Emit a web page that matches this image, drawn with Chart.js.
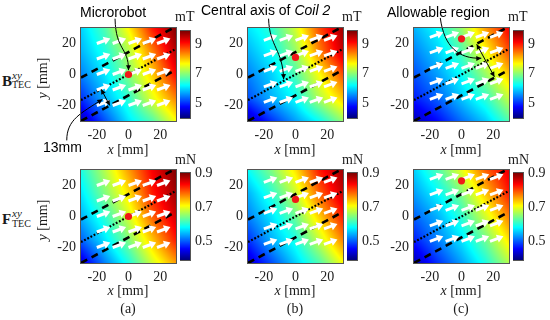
<!DOCTYPE html>
<html>
<head>
<meta charset="utf-8">
<script src="https://cdn.jsdelivr.net/npm/chart.js@4"></script>
<style>
  body { margin: 0; background: #fff; }
  #wrap { position: relative; width: 550px; height: 320px; overflow: hidden; font-family: "Liberation Serif", serif; color: #1a1a1a; }
  canvas { position: absolute; }
  .t { position: absolute; white-space: nowrap; line-height: 1; font-size: 14px; }
  .sans { font-family: "Liberation Sans", Arial, sans-serif; color: #000; }
  .c { text-align: center; width: 80px; }
</style>
</head>
<body>
<div id="wrap"></div>
<script>
// grid the field maps were read on (mm)
const gridX = [-30, -15, 0, 15, 30];
const gridY = [30, 15, 0, -15, -30];

// |B| in mT, rows follow gridY, columns follow gridX
const fluxA = [
  [5.97, 6.67, 7.71, 8.98, 9.85],
  [5.80, 6.38, 7.24, 8.40, 9.56],
  [5.51, 6.09, 6.96, 7.94, 9.10],
  [5.04, 5.80, 6.49, 7.53, 8.40],
  [4.35, 5.22, 6.09, 6.67, 7.65]
];
const fluxB = [
  [6.09, 6.49, 7.42, 8.69, 9.68],
  [5.80, 6.26, 7.07, 8.40, 9.44],
  [5.51, 5.97, 6.67, 7.65, 8.69],
  [5.22, 5.80, 6.26, 7.24, 8.00],
  [4.35, 5.04, 5.68, 6.26, 7.07]
];
const fluxC = [
  [5.80, 6.26, 7.07, 8.23, 9.16],
  [5.51, 5.97, 6.67, 7.65, 8.69],
  [5.22, 5.68, 6.26, 7.07, 8.00],
  [4.93, 5.33, 5.91, 6.49, 7.36],
  [4.35, 4.81, 5.39, 5.91, 6.67]
];
// |F| in mN
const forceA = [
  [0.594, 0.671, 0.757, 0.839, 0.900],
  [0.569, 0.645, 0.722, 0.824, 0.885],
  [0.543, 0.604, 0.686, 0.788, 0.859],
  [0.502, 0.569, 0.645, 0.737, 0.824],
  [0.431, 0.518, 0.594, 0.686, 0.757]
];
const forceB = [
  [0.584, 0.645, 0.722, 0.824, 0.885],
  [0.543, 0.604, 0.681, 0.788, 0.864],
  [0.518, 0.569, 0.635, 0.732, 0.824],
  [0.477, 0.543, 0.594, 0.681, 0.773],
  [0.426, 0.492, 0.558, 0.620, 0.706]
];
const forceC = [
  [0.558, 0.620, 0.696, 0.788, 0.849],
  [0.533, 0.579, 0.645, 0.737, 0.824],
  [0.502, 0.543, 0.604, 0.686, 0.773],
  [0.467, 0.518, 0.569, 0.635, 0.722],
  [0.416, 0.477, 0.533, 0.594, 0.671]
];

const fluxRange = [4.05, 9.85];
const forceRange = [0.39, 0.9];
const fluxTicks = [5, 7, 9];
const forceTicks = [0.5, 0.7, 0.9];
const axisTicks = [-20, 0, 20];

// microrobot position per column (a), (b), (c)
const robotX = [0, 0, 0];
const robotY = [0, 11, 23];

// central axis of coil 2 and the +-13 mm band edges
const lineX = [-30, 30];
const axisY = [-16.5, 16.5];
const upperY = [-2, 31];
const lowerY = [-30, 3];

// quiver tails and vector (mm)
const arrowTailX = [-20, -10, 0, 9, 18];
const arrowTailY = [
  [20, 10, 0, -10, -20],
  [22, 12, 2, -8, -18],
  [24, 14, 4, -6, -16]
];
const arrowU = 8.5;
const arrowV = 3.2;

function jet(t) {
  t = Math.min(1, Math.max(0, t));
  const f = v => Math.round(255 * Math.min(1, Math.max(0, v)));
  return [f(1.5 - Math.abs(4 * t - 3)), f(1.5 - Math.abs(4 * t - 2)), f(1.5 - Math.abs(4 * t - 1))];
}

function sample(field, vx, vy) {
  let i = 0, j = 0;
  while (i < gridX.length - 2 && vx > gridX[i + 1]) i++;
  while (j < gridY.length - 2 && vy < gridY[j + 1]) j++;
  const fx = Math.min(1, Math.max(0, (vx - gridX[i]) / (gridX[i + 1] - gridX[i])));
  const fy = Math.min(1, Math.max(0, (vy - gridY[j]) / (gridY[j + 1] - gridY[j])));
  const top = field[j][i] * (1 - fx) + field[j][i + 1] * fx;
  const bot = field[j + 1][i] * (1 - fx) + field[j + 1][i + 1] * fx;
  return top * (1 - fy) + bot * fy;
}

function drawHead(ctx, x0, y0, x1, y1, len, half) {
  const a = Math.atan2(y1 - y0, x1 - x0);
  const c = Math.cos(a), s = Math.sin(a);
  ctx.beginPath();
  ctx.moveTo(x1, y1);
  ctx.lineTo(x1 - len * c + half * s, y1 - len * s - half * c);
  ctx.lineTo(x1 - len * c - half * s, y1 - len * s + half * c);
  ctx.closePath();
  ctx.fill();
}

const heatmap = {
  id: 'heatmap',
  beforeDatasetsDraw(chart, args, opts) {
    const { ctx, chartArea: a, scales: { x, y } } = chart;
    const l = Math.round(a.left), t = Math.round(a.top);
    const w = Math.round(a.right) - l, h = Math.round(a.bottom) - t;
    const img = ctx.createImageData(w, h);
    for (let j = 0; j < h; j++) {
      const vy = y.getValueForPixel(t + j + 0.5);
      for (let i = 0; i < w; i++) {
        const vx = x.getValueForPixel(l + i + 0.5);
        const c = jet((sample(opts.field, vx, vy) - opts.min) / (opts.max - opts.min));
        const k = (j * w + i) * 4;
        img.data[k] = c[0]; img.data[k + 1] = c[1]; img.data[k + 2] = c[2]; img.data[k + 3] = 255;
      }
    }
    ctx.putImageData(img, l, t);
  }
};

const quiver = {
  id: 'quiver',
  beforeDatasetDraw(chart, args, opts) {
    if (args.index !== 0) return;
    const { ctx, scales: { x, y } } = chart;
    ctx.save();
    ctx.strokeStyle = '#fff';
    ctx.fillStyle = '#fff';
    ctx.lineWidth = 3;
    opts.ys.forEach(ty => opts.xs.forEach(tx => {
      const x0 = x.getPixelForValue(tx), y0 = y.getPixelForValue(ty);
      const x1 = x.getPixelForValue(tx + opts.u), y1 = y.getPixelForValue(ty + opts.v);
      const a = Math.atan2(y1 - y0, x1 - x0);
      ctx.beginPath();
      ctx.moveTo(x0, y0);
      ctx.lineTo(x1 - 5 * Math.cos(a), y1 - 5 * Math.sin(a));
      ctx.stroke();
      drawHead(ctx, x0, y0, x1, y1, 6.5, 4.2);
    }));
    ctx.restore();
  }
};

const callouts = {
  id: 'callouts',
  afterDraw(chart, args, opts) {
    const { ctx, scales: { x, y } } = chart;
    const px = p => [x.getPixelForValue(p[0]), y.getPixelForValue(p[1])];
    ctx.save();
    ctx.strokeStyle = '#000';
    ctx.fillStyle = '#000';
    ctx.lineWidth = 1;
    (opts.curves || []).forEach(c => {
      const [p0, p1, p2, p3] = c.map(px);
      ctx.beginPath();
      ctx.moveTo(p0[0], p0[1]);
      ctx.bezierCurveTo(p1[0], p1[1], p2[0], p2[1], p3[0], p3[1]);
      ctx.stroke();
      drawHead(ctx, p2[0], p2[1], p3[0], p3[1], 5, 2.5);
    });
    (opts.spans || []).forEach(s => {
      const [a, b] = s.map(px);
      ctx.beginPath();
      ctx.moveTo(a[0], a[1]);
      ctx.lineTo(b[0], b[1]);
      ctx.stroke();
      drawHead(ctx, a[0], a[1], b[0], b[1], 5, 2.5);
      drawHead(ctx, b[0], b[1], a[0], a[1], 5, 2.5);
    });
    ctx.restore();
  }
};

const frame = {
  id: 'frame',
  afterDraw(chart) {
    const { ctx, chartArea: a } = chart;
    ctx.save();
    ctx.strokeStyle = '#555';
    ctx.lineWidth = 1;
    ctx.strokeRect(Math.round(a.left) - 0.5, Math.round(a.top) - 0.5,
      Math.round(a.right) - Math.round(a.left) + 1, Math.round(a.bottom) - Math.round(a.top) + 1);
    ctx.restore();
  }
};

const colorbar = {
  id: 'colorbar',
  beforeDraw(chart, args, opts) {
    const { ctx, chartArea: a, scales: { y } } = chart;
    const t = Math.round(a.top), b = Math.round(a.bottom);
    for (let j = t; j < b; j++) {
      const c = jet((y.getValueForPixel(j + 0.5) - opts.min) / (opts.max - opts.min));
      ctx.fillStyle = `rgb(${c[0]},${c[1]},${c[2]})`;
      ctx.fillRect(Math.round(a.left), j, Math.round(a.right) - Math.round(a.left), 1);
    }
  }
};

const tickFont = { family: 'Liberation Serif', size: 14 };
const wrap = document.getElementById('wrap');

function addCanvas(left, top, w, h) {
  const c = document.createElement('canvas');
  c.width = w; c.height = h;
  c.style.left = left + 'px'; c.style.top = top + 'px';
  wrap.appendChild(c);
  return c;
}

function addText(html, left, top, cls, extra) {
  const d = document.createElement('div');
  d.className = 't ' + (cls || '');
  d.innerHTML = html;
  d.style.left = left + 'px';
  d.style.top = top + 'px';
  if (extra) Object.assign(d.style, extra);
  wrap.appendChild(d);
  return d;
}

const plotLeft = [81, 248, 414];
const barLeft = [180, 347, 513];
const rowTop = [28, 170];
const fields = [[fluxA, fluxB, fluxC], [forceA, forceB, forceC]];
const ranges = [fluxRange, forceRange];
const barTicks = [fluxTicks, forceTicks];

const calloutSets = [
  [
    { curves: [[[-8.5, 36], [-8, 15], [0, 18], [0, 2.8]], [[-39, -42.5], [-39, -29], [-30, -25], [-16.5, -16]]],
      spans: [[[-17.3, -9.5], [-11.8, -20]]] },
    { curves: [[[-17, 36], [-16.5, 18], [-8, 16], [-7.5, -3]]] },
    { curves: [[[-13.4, 36.5], [-11, 18], [-2, 10], [12.5, 10.5]]],
      spans: [[[9.6, 19.5], [20.8, -1.5]]] }
  ],
  [{}, {}, {}]
];

for (let r = 0; r < 2; r++) {
  for (let p = 0; p < 3; p++) {
    const cv = addCanvas(plotLeft[p] - 40, rowTop[r] - 28, 139, 160);
    new Chart(cv, {
      type: 'scatter',
      data: {
        datasets: [
          { data: [{ x: robotX[p], y: robotY[p] }], pointRadius: 3.6, backgroundColor: '#f01818', borderWidth: 0 },
          { type: 'line', data: lineX.map((v, i) => ({ x: v, y: axisY[i] })), borderColor: '#000',
            borderWidth: 2.2, borderDash: [1.8, 1.8], pointRadius: 0, fill: false },
          { type: 'line', data: lineX.map((v, i) => ({ x: v, y: upperY[i] })), borderColor: '#000',
            borderWidth: 2.6, borderDash: [7, 5], pointRadius: 0, fill: false },
          { type: 'line', data: lineX.map((v, i) => ({ x: v, y: lowerY[i] })), borderColor: '#000',
            borderWidth: 2.6, borderDash: [7, 5], pointRadius: 0, fill: false }
        ]
      },
      options: {
        responsive: false,
        animation: false,
        events: [],
        layout: { padding: { top: 28, right: 4, bottom: 17, left: 0 } },
        plugins: {
          legend: { display: false },
          tooltip: { enabled: false },
          heatmap: { field: fields[r][p], min: ranges[r][0], max: ranges[r][1] },
          quiver: { xs: arrowTailX, ys: arrowTailY[p], u: arrowU, v: arrowV },
          callouts: calloutSets[r][p]
        },
        scales: {
          x: {
            type: 'linear', min: -30, max: 30,
            grid: { display: false, drawTicks: false }, border: { display: false },
            afterBuildTicks: s => { s.ticks = axisTicks.map(v => ({ value: v })); },
            afterFit: s => { s.height = 22; },
            ticks: { font: tickFont, color: '#222', padding: 6, maxRotation: 0, autoSkip: false }
          },
          y: {
            type: 'linear', min: -30, max: 30,
            grid: { display: false, drawTicks: false }, border: { display: false },
            afterBuildTicks: s => { s.ticks = axisTicks.map(v => ({ value: v })); },
            afterFit: s => { s.width = 40; },
            ticks: { font: tickFont, color: '#222', padding: 5, autoSkip: false }
          }
        }
      },
      plugins: [heatmap, quiver, callouts, frame]
    });

    const bc = addCanvas(barLeft[p], rowTop[r] - 10, 40, 113);
    new Chart(bc, {
      type: 'scatter',
      data: { datasets: [] },
      options: {
        responsive: false,
        animation: false,
        events: [],
        layout: { padding: { top: 10, bottom: 10, left: 0, right: 0 } },
        plugins: { legend: { display: false }, tooltip: { enabled: false },
          colorbar: { min: ranges[r][0], max: ranges[r][1] } },
        scales: {
          x: { display: false, min: 0, max: 1 },
          y: {
            position: 'right', min: ranges[r][0], max: ranges[r][1],
            grid: { display: false, drawTicks: false }, border: { display: false },
            afterBuildTicks: s => { s.ticks = barTicks[r].map(v => ({ value: v })); },
            afterFit: s => { s.width = 30; },
            ticks: { font: tickFont, color: '#222', padding: 5, autoSkip: false }
          }
        }
      },
      plugins: [colorbar, frame]
    });

    const cx = plotLeft[p] + 47;
    addText('<i>x</i> [mm]', cx - 40, r === 0 ? 143 : 284, 'c');
    addText(r === 0 ? 'mT' : 'mN', barLeft[p] - 5, r === 0 ? 10 : 153);
    if (r === 1) addText('(' + 'abc'[p] + ')', cx - 40, 302, 'c');
  }
}

// row labels and y titles
addText('<b style="font-size:15px">B</b>', 2, 74);
addText('<i>xy</i>', 12, 70, '', { fontSize: '11px' });
addText('TEC', 12, 80, '', { fontSize: '10px' });
addText('<b style="font-size:15px">F</b>', 2, 212);
addText('<i>xy</i>', 12, 208, '', { fontSize: '11px' });
addText('TEC', 12, 219, '', { fontSize: '10px' });
addText('<i>y</i> [mm]', 3, 71, 'c', { transform: 'rotate(-90deg)' });
addText('<i>y</i> [mm]', 3, 213, 'c', { transform: 'rotate(-90deg)' });

// annotations
addText('Microrobot', 80, 5, 'sans');
addText('Central axis of <i>Coil 2</i>', 201, 3, 'sans');
addText('Allowable region', 387, 5, 'sans');
addText('13mm', 43, 140, 'sans');
</script>
</body>
</html>
